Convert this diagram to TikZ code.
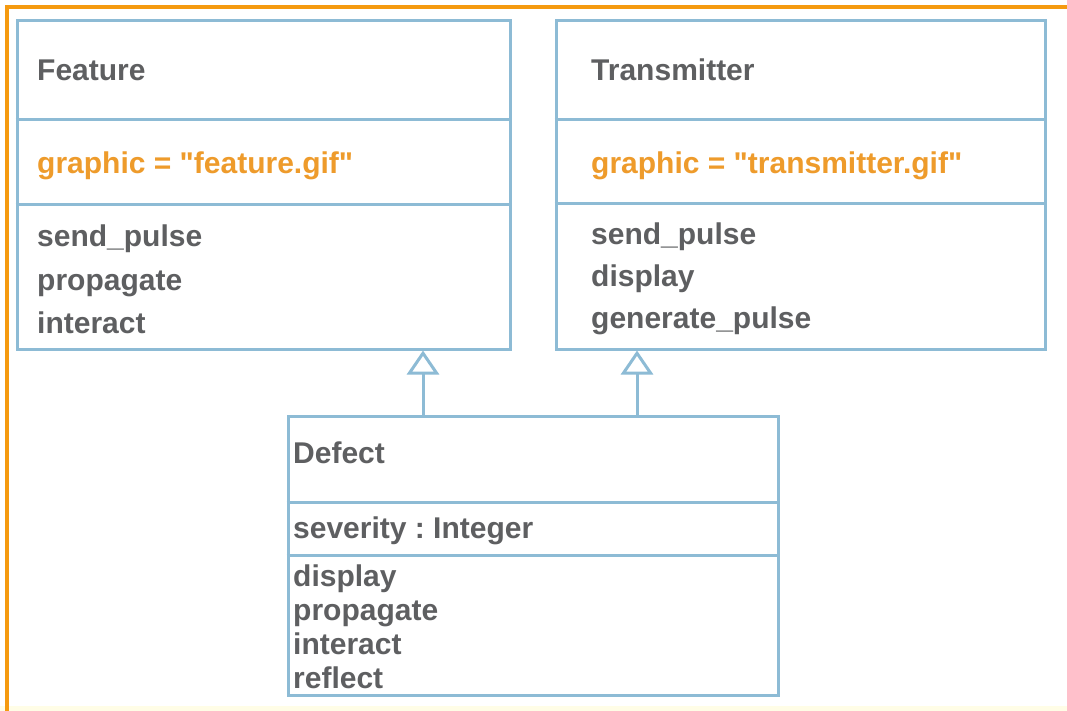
\documentclass[tikz,border=0pt]{standalone}
\usepackage{fontspec}
\setmainfont{Liberation Sans}[Ligatures=TeXOff]
\usetikzlibrary{arrows.meta}
\definecolor{umlblue}{HTML}{8DBBD5}
\definecolor{txtgray}{HTML}{5E5F61}
\definecolor{attrorange}{HTML}{EE9B2B}
\definecolor{frameorange}{HTML}{F59A10}
\definecolor{paleyellow}{HTML}{FFFDE6}
\frenchspacing
\begin{document}
\begin{tikzpicture}[x=1pt,y=-1pt,
  classbox/.style={draw=umlblue, line width=3pt, fill=white, inner sep=0pt},
  divline/.style={draw=umlblue, line width=3pt},
  txt/.style={anchor=base west, inner sep=0pt, text=txtgray, font=\fontsize{30}{36}\selectfont\bfseries},
  attr/.style={txt, text=attrorange},
  genarrow/.style={draw=umlblue, line width=3pt, -{Triangle[open, length=24pt, width=32pt]}}
]
\useasboundingbox (0,0) rectangle (1067,711);
\fill[white] (0,0) rectangle (1067,711);
\fill[paleyellow] (0,706) rectangle (1067,711);
\draw[frameorange, line width=3.5pt] (7,711) -- (7,7) -- (1067,7);

% Feature
\node[classbox, minimum width=493pt, minimum height=328pt] (feature) at (263.5,185) {};
\coordinate (fd1) at (0,120);
\coordinate (fd2) at (0,205);
\draw[divline] (feature.west |- fd1) -- (feature.east |- fd1);
\draw[divline] (feature.west |- fd2) -- (feature.east |- fd2);
\node[txt] (fname) at (37,81) {Feature};
\node[attr] (fattr) at (37,174) {graphic = "feature.gif"};
\node[txt] (fm1) at (37,247) {send\_pulse};
\node[txt] (fm2) at (37,290) {propagate};
\node[txt] (fm3) at (37,333) {interact};

% Transmitter
\node[classbox, minimum width=489pt, minimum height=328pt] (transmitter) at (800.5,185) {};
\coordinate (td1) at (0,120);
\coordinate (td2) at (0,204);
\draw[divline] (transmitter.west |- td1) -- (transmitter.east |- td1);
\draw[divline] (transmitter.west |- td2) -- (transmitter.east |- td2);
\node[txt] (tname) at (591,81) {Transmitter};
\node[attr] (tattr) at (591,174) {graphic = "transmitter.gif"};
\node[txt] (tm1) at (591,244) {send\_pulse};
\node[txt] (tm2) at (591,286) {display};
\node[txt] (tm3) at (591,328) {generate\_pulse};

% Defect
\node[classbox, minimum width=490pt, minimum height=279pt] (defect) at (533,555.5) {};
\coordinate (dd1) at (0,502);
\coordinate (dd2) at (0,555);
\draw[divline] (defect.west |- dd1) -- (defect.east |- dd1);
\draw[divline] (defect.west |- dd2) -- (defect.east |- dd2);
\node[txt] (dname) at (293,463) {Defect};
\node[txt] (dattr) at (293,538) {severity : Integer};
\node[txt] (dm1) at (293,586) {display};
\node[txt] (dm2) at (293,620) {propagate};
\node[txt] (dm3) at (293,654) {interact};
\node[txt] (dm4) at (293,688) {reflect};

% Generalisations
\coordinate (fa) at (423,0);
\coordinate (ta) at (637,0);
\draw[genarrow] (defect.north -| fa) -- (feature.south -| fa);
\draw[genarrow] (defect.north -| ta) -- (transmitter.south -| ta);
\end{tikzpicture}
\end{document}
